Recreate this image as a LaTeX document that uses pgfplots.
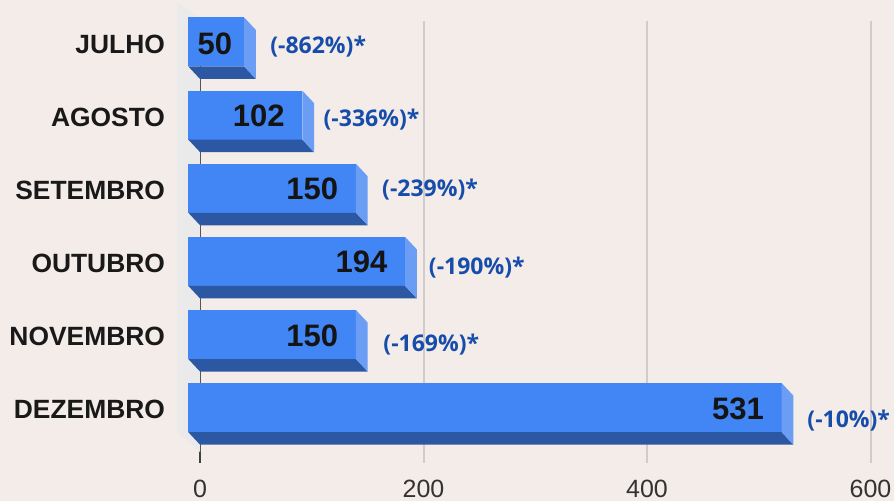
\documentclass[border=0pt]{standalone}
\usepackage{pgfplots}
\pgfplotsset{compat=1.18}
\usetikzlibrary{backgrounds}
\usepackage{fontspec}
\setmainfont{Liberation Sans}
\newfontfamily\pctfont{Open Sans}

\definecolor{bg}{HTML}{F4ECE9}
\definecolor{front}{HTML}{4285F4}
\definecolor{bottom}{HTML}{2C57A2}
\definecolor{side}{HTML}{6B9DF5}
\definecolor{wall}{HTML}{EBEAEA}
\definecolor{pct}{HTML}{174DAA}
\definecolor{gridc}{HTML}{CFCCCB}

\begin{document}
\begin{tikzpicture}
\begin{axis}[
    x=0.55875pt, y=36.57pt,
    y dir=reverse,
    xmin=0, xmax=621,
    ymin=-0.458, ymax=5.585,
    clip=false,
    axis lines=left,
    x axis line style={draw=none},
    y axis line style={draw=black!75, line width=0.8pt, -},
    xtick={0,200,400,600},
    xmajorgrids,
    grid style={gridc, line width=1pt},
    ytick={-0.144,0.856,1.856,2.856,3.856,4.856},
    yticklabels={JULHO,AGOSTO,SETEMBRO,OUTUBRO,NOVEMBRO,DEZEMBRO},
    major tick length=0pt,
    xticklabel style={font=\fontsize{12.5}{14}\selectfont, text=black!80, yshift=-5pt},
    yticklabel style={font=\bfseries\fontsize{13.2}{15}\selectfont, text=black!90, xshift=-14pt},
    /pgf/number format/assume math mode=true,
]
    % left wall of the 3d frame
    \addplot[fill=wall, draw=none] coordinates {(-20.6,-0.72) (0,-0.5) (0,5.435) (-20.6,5.162)};

    % JULHO 50
    \addplot[fill=front, draw=none] coordinates {(-10.47,-0.506) (39.53,-0.506) (39.53,0.164) (-10.47,0.164)};
    \addplot[fill=bottom, draw=none] coordinates {(-10.47,0.164) (39.53,0.164) (50,0.335) (0,0.335)};
    \addplot[fill=side, draw=none] coordinates {(39.53,-0.506) (50,-0.335) (50,0.335) (39.53,0.164)};
    % AGOSTO 102
    \addplot[fill=front, draw=none] coordinates {(-10.47,0.494) (91.53,0.494) (91.53,1.164) (-10.47,1.164)};
    \addplot[fill=bottom, draw=none] coordinates {(-10.47,1.164) (91.53,1.164) (102,1.335) (0,1.335)};
    \addplot[fill=side, draw=none] coordinates {(91.53,0.494) (102,0.665) (102,1.335) (91.53,1.164)};
    % SETEMBRO 150
    \addplot[fill=front, draw=none] coordinates {(-10.47,1.494) (139.53,1.494) (139.53,2.164) (-10.47,2.164)};
    \addplot[fill=bottom, draw=none] coordinates {(-10.47,2.164) (139.53,2.164) (150,2.335) (0,2.335)};
    \addplot[fill=side, draw=none] coordinates {(139.53,1.494) (150,1.665) (150,2.335) (139.53,2.164)};
    % OUTUBRO 194
    \addplot[fill=front, draw=none] coordinates {(-10.47,2.494) (183.53,2.494) (183.53,3.164) (-10.47,3.164)};
    \addplot[fill=bottom, draw=none] coordinates {(-10.47,3.164) (183.53,3.164) (194,3.335) (0,3.335)};
    \addplot[fill=side, draw=none] coordinates {(183.53,2.494) (194,2.665) (194,3.335) (183.53,3.164)};
    % NOVEMBRO 150
    \addplot[fill=front, draw=none] coordinates {(-10.47,3.494) (139.53,3.494) (139.53,4.164) (-10.47,4.164)};
    \addplot[fill=bottom, draw=none] coordinates {(-10.47,4.164) (139.53,4.164) (150,4.335) (0,4.335)};
    \addplot[fill=side, draw=none] coordinates {(139.53,3.494) (150,3.665) (150,4.335) (139.53,4.164)};
    % DEZEMBRO 531
    \addplot[fill=front, draw=none] coordinates {(-10.47,4.494) (520.53,4.494) (520.53,5.164) (-10.47,5.164)};
    \addplot[fill=bottom, draw=none] coordinates {(-10.47,5.164) (520.53,5.164) (531,5.335) (0,5.335)};
    \addplot[fill=side, draw=none] coordinates {(520.53,4.494) (531,4.665) (531,5.335) (520.53,5.164)};

    % values on the bars
    \begin{scope}[every node/.style={anchor=east, inner sep=0pt, text=black!92,
            font=\bfseries\fontsize{15.5}{17}\selectfont}]
        \node at (axis cs:29,-0.15) {50};
        \node at (axis cs:76,0.84) {102};
        \node at (axis cs:124,1.84) {150};
        \node at (axis cs:168,2.84) {194};
        \node at (axis cs:124,3.84) {150};
        \node at (axis cs:505,4.84) {531};
    \end{scope}

    % percentages beside the bars
    \begin{scope}[every node/.style={anchor=west, inner sep=0pt, text=pct,
            font=\pctfont\bfseries\fontsize{11.5}{13}\selectfont}]
        \node at (axis cs:62.6,-0.11) {(-862\%)*};
        \node at (axis cs:110.3,0.89) {(-336\%)*};
        \node at (axis cs:162.7,1.85) {(-239\%)*};
        \node at (axis cs:204.5,2.92) {(-190\%)*};
        \node at (axis cs:163.8,3.97) {(-169\%)*};
        \node at (axis cs:543.2,5.0) {(-10\%)*};
    \end{scope}

    \coordinate (bl) at (axis cs:-179,6.105);
    \coordinate (tr) at (axis cs:621,-0.745);
\end{axis}
\begin{scope}[on background layer]
    \fill[bg] (bl) rectangle (tr);
\end{scope}
\pgfresetboundingbox
\path (bl) rectangle (tr);
\end{tikzpicture}
\end{document}
